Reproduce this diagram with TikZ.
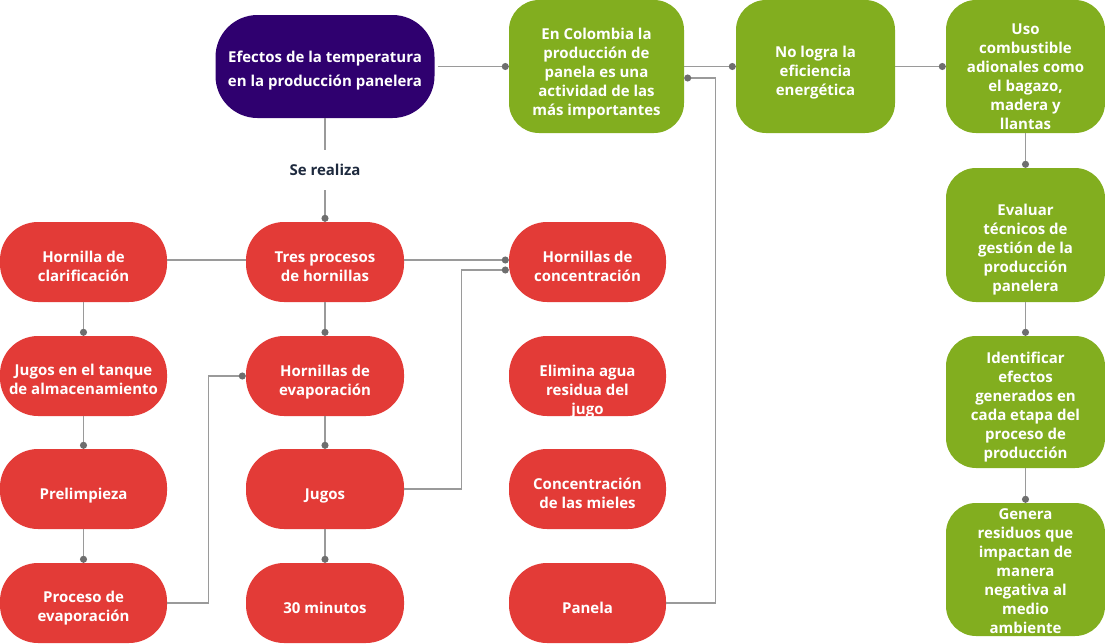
\documentclass[tikz,border=0pt]{standalone}
\usepackage{fontspec}
\setmainfont{Open Sans}
\usetikzlibrary{arrows.meta}
\definecolor{myred}{HTML}{E33B37}
\definecolor{mygreen}{HTML}{82AE1F}
\definecolor{mypurple}{HTML}{2F006F}
\definecolor{lineg}{HTML}{9A9A9A}
\definecolor{dotg}{HTML}{6E6E6E}
\definecolor{navy}{HTML}{1E2A3E}
\tikzset{
  redbox/.style={rectangle, rounded corners=38pt, fill=myred, minimum height=80pt, inner sep=0pt},
  greenbox/.style={rectangle, rounded corners=30pt, fill=mygreen, inner sep=0pt},
  purplebox/.style={rectangle, rounded corners=42pt, fill=mypurple, inner sep=0pt},
  txt/.style={text=white, font=\fontsize{15}{19}\selectfont\bfseries, align=center, inner sep=0pt,
    yshift=-3.5pt, execute at begin node=\strut, execute at end node=\strut},
  link/.style={draw=lineg, line width=1.3pt},
  conn/.style={link, -{Circle[length=7pt, fill=dotg, color=dotg]}},
}
\begin{document}
\begin{tikzpicture}[x=1pt, y=-1pt]
\useasboundingbox (0,0) rectangle (1105,643);

% top row
\node[purplebox, minimum width=219pt, minimum height=103pt] (efectos) at (325,66.5) {};
\node[txt, font=\fontsize{15}{24}\selectfont\bfseries] (efectos-t) at (325,69) {Efectos de la temperatura\\en la producción panelera};

\node[greenbox, minimum width=175pt, minimum height=133pt] (colombia) at (596.5,66.5) {};
\node[txt] (colombia-t) at (596.5,71) {En Colombia la\\producción de\\panela es una\\actividad de las\\más importantes};

\node[greenbox, minimum width=159pt, minimum height=133pt] (nologra) at (815.5,66.5) {};
\node[txt] (nologra-t) at (815.5,70) {No logra la\\eficiencia\\energética};

\node[greenbox, minimum width=159pt, minimum height=133pt] (uso) at (1025.5,66.5) {};
\node[txt] (uso-t) at (1025.5,75.5) {Uso\\combustible\\adionales como\\el bagazo,\\madera y\\llantas};

\node[greenbox, minimum width=159pt, minimum height=134pt] (evaluar) at (1025.5,235) {};
\node[txt] (evaluar-t) at (1025.5,247) {Evaluar\\técnicos de\\gestión de la\\producción\\panelera};

\node[greenbox, minimum width=159pt, minimum height=132pt] (identificar) at (1025.5,402) {};
\node[txt] (identificar-t) at (1025.5,404.5) {Identificar\\efectos\\generados en\\cada etapa del\\proceso de\\producción};

\node[greenbox, minimum width=159pt, minimum height=133pt] (genera) at (1025.5,569.5) {};
\node[txt] (genera-t) at (1025.5,570) {Genera\\residuos que\\impactan de\\manera\\negativa al\\medio\\ambiente};

% label
\node[text=navy, font=\fontsize{15}{19}\selectfont\bfseries, inner sep=0pt, minimum height=40pt] (sr) at (325,170) {Se realiza};

% red column 1
\node[redbox, minimum width=167pt] (hornilla) at (83.5,262) {};
\node[txt] (hornilla-t) at (83.5,265.5) {Hornilla de\\clarificación};
\node[redbox, minimum width=167pt] (tanque) at (83.5,376) {};
\node[txt] (tanque-t) at (83.5,378.5) {Jugos en el tanque\\de almacenamiento};
\node[redbox, minimum width=167pt] (prelimp) at (83.5,489) {};
\node[txt] (prelimp-t) at (83.5,492) {Prelimpieza};
\node[redbox, minimum width=167pt] (proceso) at (83.5,603) {};
\node[txt] (proceso-t) at (83.5,605.5) {Proceso de\\evaporación};

% red column 2
\node[redbox, minimum width=158pt] (tres) at (325,262) {};
\node[txt] (tres-t) at (325,265.5) {Tres procesos\\de hornillas};
\node[redbox, minimum width=158pt] (evap) at (325,376) {};
\node[txt] (evap-t) at (325,379.5) {Hornillas de\\evaporación};
\node[redbox, minimum width=158pt] (jugos) at (325,489) {};
\node[txt] (jugos-t) at (325,492) {Jugos};
\node[redbox, minimum width=158pt] (min30) at (325,603) {};
\node[txt] (min30-t) at (325,606) {30 minutos};

% red column 3
\node[redbox, minimum width=157pt] (conc) at (587.5,262) {};
\node[txt] (conc-t) at (587.5,265.5) {Hornillas de\\concentración};
\node[redbox, minimum width=157pt] (elimina) at (587.5,376) {};
\node[txt] (elimina-t) at (587.5,389) {Elimina agua\\residua del\\jugo};
\node[redbox, minimum width=157pt] (mieles) at (587.5,489) {};
\node[txt] (mieles-t) at (587.5,492.5) {Concentración\\de las mieles};
\node[redbox, minimum width=157pt] (panela) at (587.5,603) {};
\node[txt] (panela-t) at (587.5,606) {Panela};

% connectors
\draw[conn, shorten <=3pt] (efectos.east) -- (colombia.west);
\draw[conn] (colombia.east) -- (nologra.west);
\draw[conn] (nologra.east) -- (uso.west);
\draw[conn] (panela.east) -- ++(49,0) |- ([yshift=-11.5pt]colombia.east);
\draw[conn] (uso.south) -- (evaluar.north);
\draw[conn] (evaluar.south) -- (identificar.north);
\draw[conn] (identificar.south) -- (genera.north);

\draw[link] (efectos.south) -- (sr.north);
\draw[conn] (sr.south) -- (tres.north);

\draw[link] ([yshift=2pt]tres.west) -- ([yshift=2pt]tres.west -| hornilla.east);
\draw[conn] ([yshift=2pt]tres.east) -- ([yshift=2pt]tres.east -| conc.west);
\draw[conn] (jugos.east) -- ++(57,0) |- ([yshift=-8pt]conc.west);

\draw[conn] (hornilla.south) -- (tanque.north);
\draw[conn] (tanque.south) -- (prelimp.north);
\draw[conn] (prelimp.south) -- (proceso.north);
\draw[conn] (proceso.east) -- ++(41,0) |- (evap.west);

\draw[conn] (tres.south) -- (evap.north);
\draw[conn] (evap.south) -- (jugos.north);
\draw[conn] (jugos.south) -- (min30.north);
\end{tikzpicture}
\end{document}
